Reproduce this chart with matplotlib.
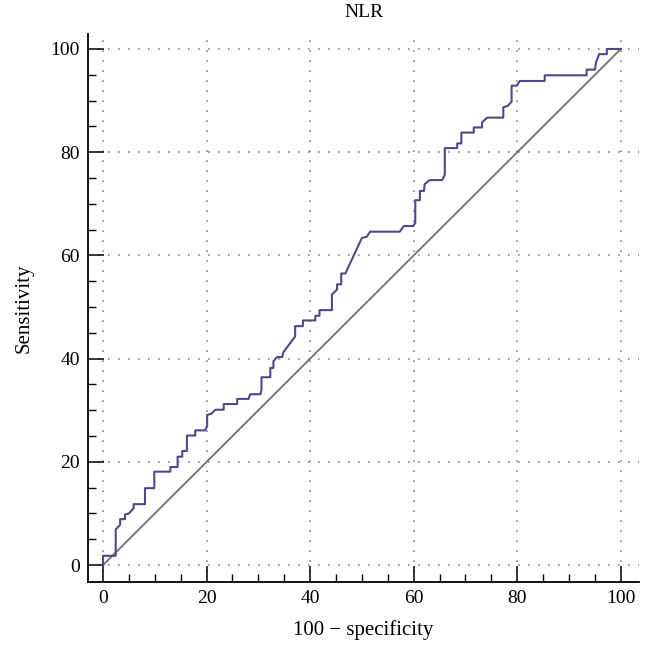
import matplotlib
matplotlib.use("Agg")
import matplotlib.pyplot as plt
from matplotlib.ticker import MultipleLocator

# ROC curve vertices (100 - specificity, sensitivity)
fpr = [0, 0, 2.45, 2.45, 3.3, 3.3, 4.25, 4.25, 5.0, 5.9, 5.9, 8.1, 8.1, 9.9, 9.9,
       13.0, 13.0, 14.4, 14.4, 15.3, 15.3, 16.2, 16.2, 17.8, 17.8, 19.7, 20.1, 20.1,
       20.9, 21.7, 23.3, 23.3, 25.9, 25.9, 28.1, 28.4, 30.4, 30.6, 30.6, 32.3, 32.3,
       32.9, 32.9, 33.6, 34.6, 34.8, 37.1, 37.1, 38.6, 38.6, 41.0, 41.0, 41.8, 41.8,
       44.2, 44.2, 45.2, 45.2, 46.0, 46.0, 46.8, 50.0, 50.9, 51.6, 57.3, 58.1, 59.9,
       60.3, 60.3, 61.2, 61.2, 62.0, 62.1, 63.1, 65.5, 66.0, 66.0, 68.4, 68.4, 69.2,
       69.2, 71.6, 71.6, 73.2, 73.2, 74.2, 77.3, 77.3, 78.2, 78.9, 78.9, 79.9, 80.5,
       85.3, 85.3, 93.4, 93.4, 95.0, 95.2, 95.8, 97.3, 97.3, 100]
tpr = [0, 1.8, 1.8, 6.9, 7.8, 8.9, 8.9, 9.8, 10.0, 11.0, 11.8, 11.8, 14.9, 14.9, 18.1,
       18.1, 19.0, 19.0, 21.0, 21.0, 22.1, 22.1, 25.1, 25.1, 26.1, 26.1, 26.9, 29.1,
       29.3, 30.1, 30.1, 31.2, 31.2, 32.2, 32.2, 33.1, 33.1, 34.0, 36.4, 36.4, 38.2,
       38.2, 39.5, 40.3, 40.3, 41.2, 44.3, 46.3, 46.3, 47.4, 47.4, 48.3, 48.3, 49.4,
       49.4, 52.4, 53.4, 54.4, 54.4, 56.5, 56.5, 63.4, 63.6, 64.6, 64.6, 65.7, 65.7,
       66.3, 70.7, 70.7, 72.5, 72.5, 73.8, 74.6, 74.6, 75.6, 80.8, 80.8, 81.7, 81.7,
       83.8, 83.8, 84.8, 84.8, 85.8, 86.7, 86.7, 88.7, 89.0, 89.8, 92.9, 92.9, 93.8,
       93.8, 94.9, 94.9, 96.0, 96.0, 97.4, 99.0, 99.0, 100, 100]

plt.rcParams['font.family'] = ['Liberation Serif', 'DejaVu Serif']

fig = plt.figure(figsize=(6.52, 6.57), dpi=100)
ax = fig.add_axes([0.135, 0.114, 0.845, 0.835])

ax.plot([0, 100], [0, 100], color='#707070', lw=1.3, zorder=2)
ax.plot(fpr, tpr, color='#4b4a8c', lw=1.5, zorder=3)

ax.set_xlim(-2.9, 103.5)
ax.set_ylim(-3.3, 103)
ax.xaxis.set_major_locator(MultipleLocator(20))
ax.yaxis.set_major_locator(MultipleLocator(20))
ax.xaxis.set_minor_locator(MultipleLocator(5))
ax.yaxis.set_minor_locator(MultipleLocator(5))
ax.tick_params(which='major', direction='in', length=11.5, width=1.1, labelsize=14, pad=6)
ax.tick_params(which='minor', direction='in', length=6, width=1.0)
ax.grid(True, which='major', color='#8a8a8a', lw=1.2, linestyle=(0, (1, 5)))
for s in ['top', 'right']:
    ax.spines[s].set_visible(False)
for s in ['left', 'bottom']:
    ax.spines[s].set_linewidth(1.3)

ax.set_title('NLR', fontsize=14, pad=12)
ax.set_xlabel('100 \u2212 specificity', fontsize=15, labelpad=9)
ax.set_ylabel('Sensitivity', fontsize=15, labelpad=12)

fig.savefig('out.png', dpi=100)
